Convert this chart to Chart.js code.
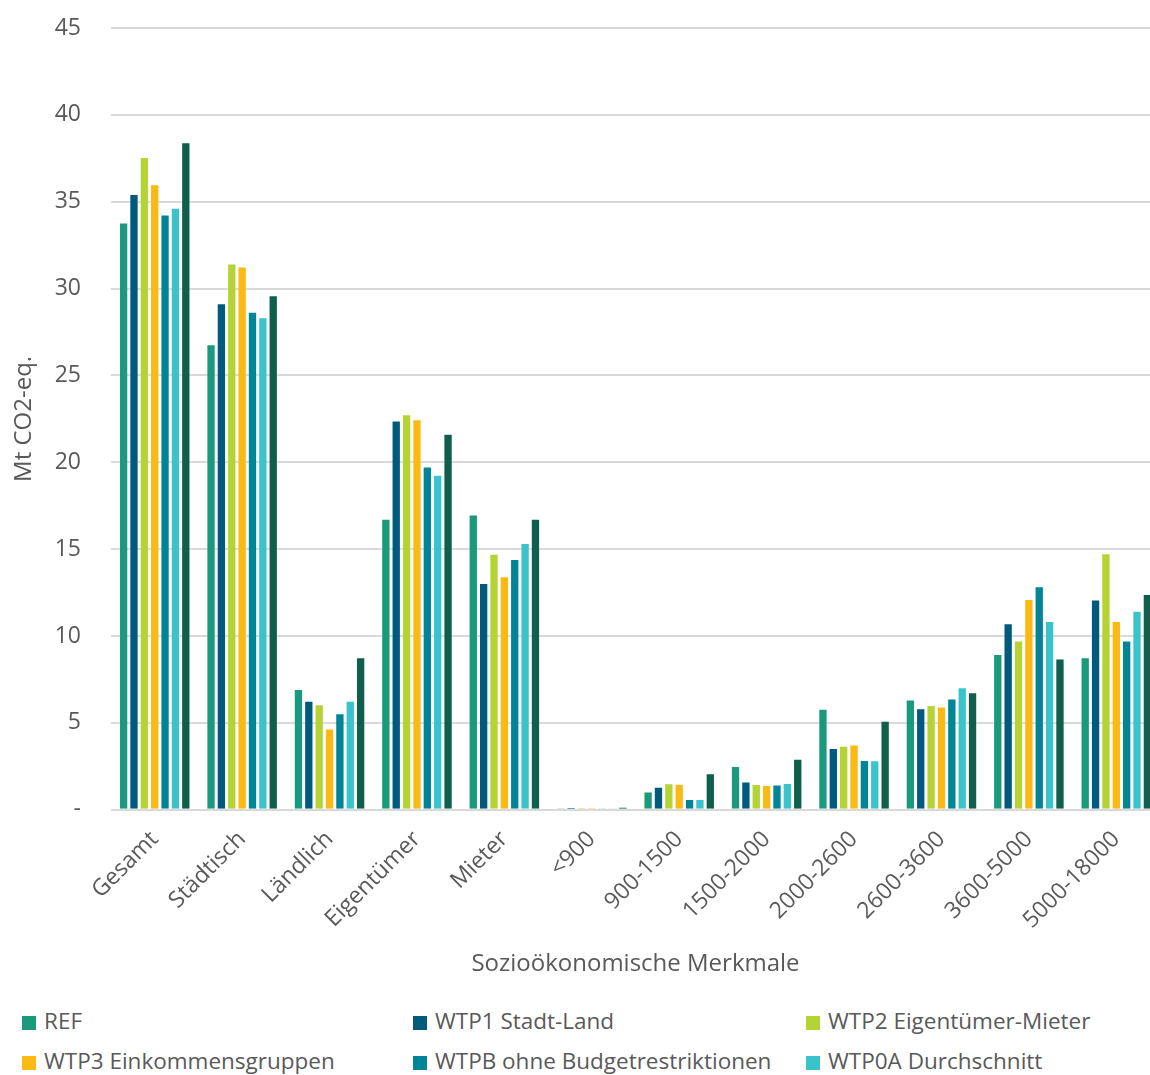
<!DOCTYPE html>
<html>
<head>
<meta charset="utf-8">
<script src="https://cdn.jsdelivr.net/npm/chart.js@4.4.1/dist/chart.umd.min.js"></script>
<style>
  html, body { margin: 0; padding: 0; background: #fff; overflow: hidden; width: 1150px; height: 1075px; }
  #wrap { position: absolute; left: 0; top: 0; width: 1166px; height: 987px; }
  #legend { position: absolute; left: 0; top: 1006px; width: 1150px; font-family: "Open Sans", sans-serif; font-size: 22.5px; color: #595959; }
  #legend .item { position: absolute; white-space: nowrap; line-height: 30px; }
  #legend .box { display: inline-block; width: 14px; height: 14px; margin-right: 8px; vertical-align: -1px; }
</style>
</head>
<body>
<div id="wrap"><canvas id="bar-chart"></canvas></div>
<div id="legend"></div>
<script>
// categories and series
var categories = ["Gesamt", "Städtisch", "Ländlich", "Eigentümer", "Mieter", "<900", "900-1500", "1500-2000", "2000-2600", "2600-3600", "3600-5000", "5000-18000"];

var seriesNames = ["REF", "WTP1 Stadt-Land", "WTP2 Eigentümer-Mieter", "WTP3 Einkommensgruppen", "WTPB ohne Budgetrestriktionen", "WTP0A Durchschnitt", "WTP0B"];
var seriesColors = ["#1a9a7d", "#005a7d", "#b5d334", "#fbb913", "#008598", "#3bc3cc", "#0f5f4c"];

var refValues   = [33.8, 26.8, 6.95, 16.75, 17.0, 0.1, 1.05, 2.52, 5.82, 6.34, 8.97, 8.78];
var wtp1Values  = [35.45, 29.15, 6.27, 22.4, 13.06, 0.14, 1.32, 1.62, 3.55, 5.85, 10.73, 12.1];
var wtp2Values  = [37.57, 31.45, 6.07, 22.76, 14.73, 0.12, 1.52, 1.48, 3.68, 6.03, 9.75, 14.77];
var wtp3Values  = [36.0, 31.27, 4.68, 22.48, 13.44, 0.12, 1.5, 1.43, 3.76, 5.95, 12.13, 10.86];
var wtpbValues  = [34.26, 28.67, 5.55, 19.76, 14.44, 0.09, 0.62, 1.46, 2.87, 6.41, 12.86, 9.75];
var wtp0aValues = [34.66, 28.35, 6.28, 19.28, 15.35, 0.09, 0.62, 1.54, 2.85, 7.05, 10.86, 11.46];
var wtp0bValues = [38.43, 29.62, 8.78, 21.65, 16.75, 0.17, 2.1, 2.93, 5.12, 6.76, 8.71, 12.42];

var allValues = [refValues, wtp1Values, wtp2Values, wtp3Values, wtpbValues, wtp0aValues, wtp0bValues];

var yTicks = [0, 5, 10, 15, 20, 25, 30, 35, 40, 45];

var fontFamily = '"Open Sans", sans-serif';
var textColor = "#595959";

var datasets = [];
for (var i = 0; i < seriesNames.length; i++) {
    datasets.push({
        label: seriesNames[i],
        data: allValues[i],
        backgroundColor: seriesColors[i],
        borderColor: "rgba(255,255,255,0.3)",
        borderWidth: 1,
        borderSkipped: "bottom",
        categoryPercentage: 0.83,
        barPercentage: 0.9
    });
}

var chart = new Chart(document.getElementById("bar-chart"), {
    type: 'bar',
    data: {
        labels: categories,
        datasets: datasets
    },
    options: {
        responsive: true,
        maintainAspectRatio: false,
        animation: false,
        layout: { padding: { top: -1, right: 6, left: 4, bottom: 0 } },
        plugins: {
            legend: { display: false },
            tooltip: { enabled: false }
        },
        scales: {
            x: {
                grid: { display: false, drawTicks: false },
                border: { display: false },
                afterFit: function (scale) {
                    // let rotated labels hang past the plot edge, as in the original
                    scale.paddingLeft = 0;
                    scale.paddingRight = 0;
                },
                ticks: {
                    color: textColor,
                    font: { family: fontFamily, size: 23 },
                    minRotation: 45,
                    maxRotation: 45,
                    padding: 16
                },
                title: {
                    display: true,
                    text: "Sozioökonomische Merkmale",
                    color: textColor,
                    font: { family: fontFamily, size: 24 },
                    padding: { top: 0, bottom: 8 }
                }
            },
            y: {
                min: 0,
                max: 45,
                afterBuildTicks: function (axis) {
                    axis.ticks = yTicks.map(function (v) { return { value: v }; });
                },
                afterFit: function (scale) {
                    scale.width = 107;
                    scale.paddingTop = 28;
                    scale.paddingBottom = 0;
                },
                grid: { color: "#d9d9d9", lineWidth: 2, drawTicks: false },
                border: { display: false },
                ticks: {
                    color: textColor,
                    font: { family: fontFamily, size: 23 },
                    padding: 30,
                    callback: function (value) { return value === 0 ? "-" : value; }
                },
                title: {
                    display: true,
                    text: "Mt CO2-eq.",
                    color: textColor,
                    font: { family: fontFamily, size: 24 },
                    padding: { top: 6, bottom: 4 }
                }
            }
        }
    }
});

// legend in three columns like the original
var legendEl = document.getElementById("legend");
var colX = [22, 413, 806];
for (var k = 0; k < seriesNames.length; k++) {
    var item = document.createElement("div");
    item.className = "item";
    item.style.left = colX[k % 3] + "px";
    item.style.top = (Math.floor(k / 3) * 40) + "px";
    var box = document.createElement("span");
    box.className = "box";
    box.style.background = seriesColors[k];
    item.appendChild(box);
    item.appendChild(document.createTextNode(seriesNames[k]));
    legendEl.appendChild(item);
}
</script>
</body>
</html>
